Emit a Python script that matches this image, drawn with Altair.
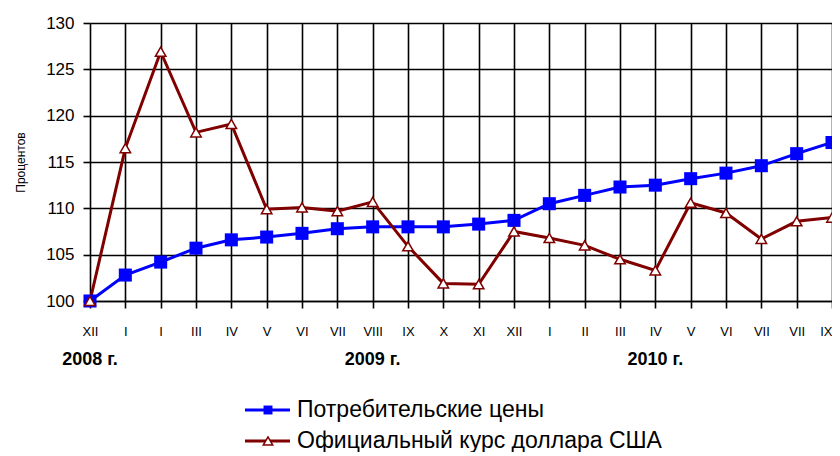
import altair as alt
import pandas as pd

months = ["XII", "I", "I", "III", "IV", "V", "VI", "VII", "VIII", "IX", "X", "XI",
          "XII", "I", "II", "III", "IV", "V", "VI", "VII", "VII", "IX"]
cpi = [100.0, 102.8, 104.2, 105.7, 106.6, 106.9, 107.3, 107.8, 108.0, 108.0, 108.0,
       108.3, 108.7, 110.5, 111.4, 112.3, 112.5, 113.2, 113.8, 114.6, 115.9, 117.1]
usd = [100.0, 116.5, 126.9, 118.2, 119.1, 109.9, 110.1, 109.7, 110.7, 105.9, 101.9,
       101.8, 107.5, 106.8, 106.0, 104.5, 103.3, 110.6, 109.5, 106.7, 108.6, 109.0]
series_names = ["Потребительские цены", "Официальный курс доллара США"]
year_labels = ["2008 г.", "2009 г.", "2010 г."]
year_pos = [0, 8, 16]
y_ticks = [100, 105, 110, 115, 120, 125, 130]

BLUE = "#0000FF"
RED = "#800000"
FONT = "Liberation Sans"

idx = list(range(len(months)))
last = len(months) - 1
df = pd.DataFrame({"i": idx, "cpi": cpi, "usd": usd})
years = pd.DataFrame({"i": year_pos, "label": year_labels})
leg_blue = pd.DataFrame({"name": [series_names[0]]})
leg_red = pd.DataFrame({"name": [series_names[1]]})

label_expr = "[" + ",".join("'" + m + "'" for m in months) + "][datum.value]"

xs = alt.Scale(domain=[0, last], nice=False, zero=False)
ys = alt.Scale(domain=[100, 130], nice=False, zero=False)

x_axis = alt.Axis(values=idx, tickCount=len(idx), labelExpr=label_expr, grid=True,
                  gridColor="black", gridWidth=1.6, gridOpacity=1, domain=True,
                  domainColor="black", domainWidth=1.6, ticks=True, tickSize=7,
                  tickColor="black", tickWidth=1.6, labelPadding=17, labelFont=FONT,
                  labelFontSize=13, labelColor="black", title=None, labelAngle=0,
                  labelOverlap=False, labelBound=False, labelFlush=False,
                  labelAlign={"condition": {"test": f"datum.value == {last}",
                                            "value": "right"},
                              "value": "center"})
y_axis = alt.Axis(values=y_ticks, grid=True, gridColor="black", gridWidth=1.6,
                  gridOpacity=1, domain=False, ticks=True, tickSize=7,
                  tickColor="black", tickWidth=1.6, labelPadding=9,
                  labelFont=FONT, labelFontSize=17, labelColor="black",
                  title="Процентов", titleFont=FONT, titleFontSize=12,
                  titleFontWeight="normal", titleColor="black", titlePadding=18)


def X():
    return alt.X("i:Q", scale=xs, axis=x_axis)


def Y(field):
    return alt.Y(field + ":Q", scale=ys, axis=y_axis)


base = alt.Chart(df)
blue_line = base.mark_line(color=BLUE, strokeWidth=3).encode(x=X(), y=Y("cpi"))
red_line = base.mark_line(color=RED, strokeWidth=3).encode(x=X(), y=Y("usd"))
blue_pts = base.mark_point(shape="square", filled=True, color=BLUE, size=170,
                           opacity=1).encode(x=X(), y=Y("cpi"))
red_pts = base.mark_point(shape="triangle-up", filled=True, fill="white",
                          stroke=RED, strokeWidth=1.5, size=110,
                          opacity=1).encode(x=X(), y=Y("usd"))

year_text = alt.Chart(years).mark_text(font=FONT, fontSize=18, fontWeight="bold",
                                       color="black", align="center",
                                       baseline="middle").encode(
    x=X(), y=alt.value(337), text="label:N")

# legend
LX0, LX1, LXM, LTX = 155, 200, 178, 207
LY = [387, 418]
lb_line = alt.Chart(leg_blue).mark_rule(color=BLUE, strokeWidth=3).encode(
    x=alt.value(LX0), x2=alt.value(LX1), y=alt.value(LY[0]))
lb_pt = alt.Chart(leg_blue).mark_point(shape="square", filled=True, color=BLUE,
                                       size=80, opacity=1).encode(
    x=alt.value(LXM), y=alt.value(LY[0]))
lb_text = alt.Chart(leg_blue).mark_text(font=FONT, fontSize=23, color="black",
                                        align="left", baseline="middle").encode(
    x=alt.value(LTX), y=alt.value(LY[0]), text="name:N")
lr_line = alt.Chart(leg_red).mark_rule(color=RED, strokeWidth=3).encode(
    x=alt.value(LX0), x2=alt.value(LX1), y=alt.value(LY[1]))
lr_pt = alt.Chart(leg_red).mark_point(shape="triangle-up", filled=True, fill="white",
                                      stroke=RED, strokeWidth=1.5, size=90,
                                      opacity=1).encode(
    x=alt.value(LXM), y=alt.value(LY[1]))
lr_text = alt.Chart(leg_red).mark_text(font=FONT, fontSize=23, color="black",
                                       align="left", baseline="middle").encode(
    x=alt.value(LTX), y=alt.value(LY[1]), text="name:N")

chart = alt.layer(
    blue_line, red_line, blue_pts, red_pts, year_text,
    lb_line, lr_line, lb_pt, lr_pt, lb_text, lr_text
).properties(
    width=742, height=278,
    autosize=alt.AutoSizeParams(type="none"),
    padding={"left": 82, "top": 15, "right": 0, "bottom": 151},
).configure_view(stroke=None).configure(background="white")

chart.save("out.html", embed_options={"renderer": "svg", "actions": False})
